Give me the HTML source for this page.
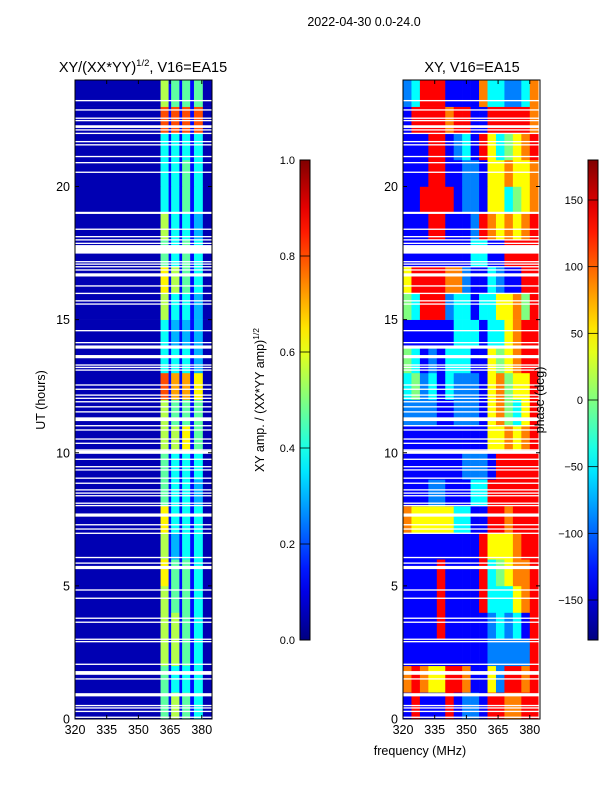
<!DOCTYPE html>
<html><head><meta charset="utf-8">
<style>
html,body{margin:0;padding:0;background:#fff;}
svg{display:block;font-family:"Liberation Sans","DejaVu Sans",sans-serif;}
</style></head>
<body>
<svg id="fig" width="600" height="800" viewBox="0 0 600 800" xmlns="http://www.w3.org/2000/svg">
<rect x="0" y="0" width="600" height="800" fill="#fff"/>
<text x="364" y="26" font-size="12.5" text-anchor="middle">2022-04-30 0.0-24.0</text>
<text x="143" y="72" font-size="14.5" text-anchor="middle">XY/(XX*YY)<tspan font-size="9.5" dy="-6">1/2</tspan><tspan dy="6">, V16=EA15</tspan></text>
<text x="472" y="72" font-size="14.5" text-anchor="middle">XY, V16=EA15</text>
<text x="420" y="755" font-size="12.5" text-anchor="middle">frequency (MHz)</text>
<text transform="translate(45,400) rotate(-90)" font-size="12.5" text-anchor="middle">UT (hours)</text>
<text transform="translate(264,400) rotate(-90)" font-size="12.5" text-anchor="middle">XY amp. / (XX*YY amp)<tspan font-size="8.5" dy="-5">1/2</tspan></text>
<g id="left"></g>
<g id="right"></g>
<text transform="translate(544,400) rotate(-90)" font-size="12.5" text-anchor="middle">phase (deg)</text>
<g id="axes"></g>
<g id="cbars"></g>
</svg>
<script>
// ---- data ----
const hours = [0,1,2,3,4,5,6,7,8,9,10,11,12,13,14,15,16,17,18,19,20,21,22,23];
// amplitude bands (MHz edges)
const ampBandEdges = [320,360.5,364.3,365.5,369.4,370.7,374.5,376.3,380.5,384.7];
// amplitude digit strings per hour (digit/12 + 0.05)
const ampRows = [
"051615140","051414140","061615140","061615140","061515140","071515140",
"061314140","071414140","051414130","051414140","061617150","061515150",
"091818170","041414130","041313130","061414130","071615140","051415140",
"061414130","041415140","041415140","041414140","091919190","061515150"];
// phase: 16 channels of 4 MHz; digit d -> phase -180 + 45*d
const phaseChanStart = [320,324,328,332,336,340,344,348,352,356,360,364,368,372,376,380];
const phaseRows = [
"1711171221776677","6765577611527767","1111111111222227","1111711111232317",
"1111711117333567","1111711117345667","1111111117555677","6555553311776777",
"1112211133777777","1111111222177777","1111111111556567","2222112221564357",
"3423132221564557","4312133311545677","1111113331335677","4377723313355647",
"5777766211321177","1111111133117777","1117711127656567","1177771221553456",
"1117711221556556","1117712317534567","1777767711777776","2377711116332236"];
// flagged (white) time ranges in hours: start, width
const flagStart = [0.04,0.26,0.39,0.48,0.85,1.48,1.66,2.03,2.88,2.97,3.61,3.76,4.51,4.82,5.63,5.83,6.04,6.95,7.11,7.27,7.6,7.99,8.08,8.36,8.46,8.58,8.83,9.02,9.33,9.45,9.73,9.96,10.08,10.33,10.49,10.83,10.99,11.19,11.51,11.7,11.89,12.02,12.14,12.36,12.52,13.08,13.18,13.27,13.55,13.91,14.11,14.56,15.56,15.68,15.96,16.24,16.62,16.84,16.96,17.06,17.15,17.48,17.84,17.97,18.09,18.37,18.97,20.51,20.87,21.1,21.54,21.66,21.97,22.1,22.2,22.45,22.54,22.85,23.2];
const flagWidth = [0.05,0.05,0.05,0.05,0.12,0.05,0.14,0.05,0.05,0.05,0.05,0.05,0.05,0.05,0.12,0.05,0.05,0.05,0.05,0.05,0.12,0.05,0.05,0.05,0.05,0.05,0.05,0.05,0.05,0.05,0.05,0.12,0.05,0.05,0.05,0.05,0.05,0.14,0.05,0.05,0.05,0.05,0.05,0.05,0.05,0.05,0.05,0.05,0.12,0.12,0.05,0.05,0.05,0.05,0.05,0.05,0.12,0.05,0.05,0.05,0.05,0.32,0.05,0.05,0.05,0.05,0.08,0.05,0.05,0.05,0.05,0.05,0.05,0.05,0.1,0.05,0.05,0.05,0.05];
const xTicks = [320,335,350,365,380];
const yTicks = [0,5,10,15,20];
const ampTicks = [0.0,0.2,0.4,0.6,0.8,1.0];
const phaseTicks = [-150,-100,-50,0,50,100,150];

// ---- scales ----
const NS="http://www.w3.org/2000/svg";
const Y0=719, Y1=80;
function yH(h){return Y0-(h/24)*(Y0-Y1);}
function xF(x0,f){return x0+(f-320)*2.113;}
const L0=75, R0=403, PW=137;
function jet(v){v=Math.max(0,Math.min(1,v));
 const r=Math.max(0,Math.min(1,1.5-Math.abs(4*v-3)));
 const g=Math.max(0,Math.min(1,1.5-Math.abs(4*v-2)));
 const b=Math.max(0,Math.min(1,1.5-Math.abs(4*v-1)));
 return `rgb(${Math.round(r*255)},${Math.round(g*255)},${Math.round(b*255)})`;}
function mk(tag,attrs,parent){const e=document.createElementNS(NS,tag);for(const k in attrs)e.setAttribute(k,attrs[k]);parent.appendChild(e);return e;}

const left=document.getElementById('left'), right=document.getElementById('right');
hours.forEach((h,i)=>{
 const yt=yH(h+1), yb=yH(h);
 for(let b=0;b<ampBandEdges.length-1;b++){
  const v=parseInt(ampRows[i][b])/12+0.05;
  const x1=xF(L0,ampBandEdges[b]), x2=Math.min(L0+PW,xF(L0,ampBandEdges[b+1]));
  const r=mk('rect',{x:x1,y:yt,width:x2-x1+0.3,height:yb-yt+0.3,fill:jet(v)},left);
  
  
 }
 for(let c=0;c<phaseChanStart.length;c++){
  const p=-180+45*parseInt(phaseRows[i][c]);
  const x1=xF(R0,phaseChanStart[c]), x2=Math.min(R0+PW,xF(R0,phaseChanStart[c]+4));
  const r=mk('rect',{x:x1,y:yt,width:x2-x1+0.3,height:yb-yt+0.3,fill:jet((p+180)/360)},right);
  
  
 }
});
// flags
[[left,L0],[right,R0]].forEach(([g,x0])=>{
 flagStart.forEach((s,i)=>{
  const yt=yH(s+flagWidth[i]), yb=yH(s);
  const r=mk('rect',{x:x0,y:yt,width:PW,height:Math.max(1.2,yb-yt),fill:'#fff'},g);
  
  
 });
});
// axes
const ax=document.getElementById('axes');
[L0,R0].forEach((x0,pi)=>{
 const fr=mk('rect',{x:x0,y:Y1,width:PW,height:Y0-Y1,fill:'none',stroke:'#000','stroke-width':1},ax);
 
 
 xTicks.forEach(t=>{
  const x=xF(x0,t);
  mk('line',{x1:x,x2:x,y1:Y0,y2:Y0-4,stroke:'#000'},ax);
  mk('line',{x1:x,x2:x,y1:Y1,y2:Y1+4,stroke:'#000'},ax);
  const tx=mk('text',{x:x,y:Y0+15,'font-size':12.5,'text-anchor':'middle'},ax);
  tx.textContent=t;
  
  
 });
 yTicks.forEach(t=>{
  const y=yH(t);
  mk('line',{x1:x0,x2:x0+4,y1:y,y2:y,stroke:'#000'},ax);
  mk('line',{x1:x0+PW,x2:x0+PW-4,y1:y,y2:y,stroke:'#000'},ax);
  const tx=mk('text',{x:x0-5,y:y+4.5,'font-size':12.5,'text-anchor':'end'},ax);
  tx.textContent=t;
  
  
 });
});
// colorbars
const cb=document.getElementById('cbars');
const CT=160, CB=640;
const defs=mk('defs',{},cb);
const gr=mk('linearGradient',{id:'jetg',x1:0,y1:1,x2:0,y2:0},defs);
for(let i=0;i<=20;i++){mk('stop',{offset:i/20,'stop-color':jet(i/20)},gr);}
[[300,ampTicks,v=>CB-v*(CB-CT),v=>v.toFixed(1),'amp-colorbar'],
 [588,phaseTicks,v=>CB-((v+180)/360)*(CB-CT),v=>v<0?'\u2212'+(-v):''+v,'phase-colorbar']].forEach(([x,ticks,sc,fmt,nm])=>{
 const r=mk('rect',{x:x,y:CT,width:10,height:CB-CT,fill:'url(#jetg)',stroke:'#000','stroke-width':1},cb);
 
 
 ticks.forEach(t=>{
  const y=sc(t);
  mk('line',{x1:x,x2:x+10,y1:y,y2:y,stroke:'#000','stroke-width':0.8},cb);
  const tx=mk('text',{x:x-5,y:y+4,'font-size':11,'text-anchor':'end'},cb);
  tx.textContent=fmt(t);
  
  
 });
});
</script>
</body></html>
